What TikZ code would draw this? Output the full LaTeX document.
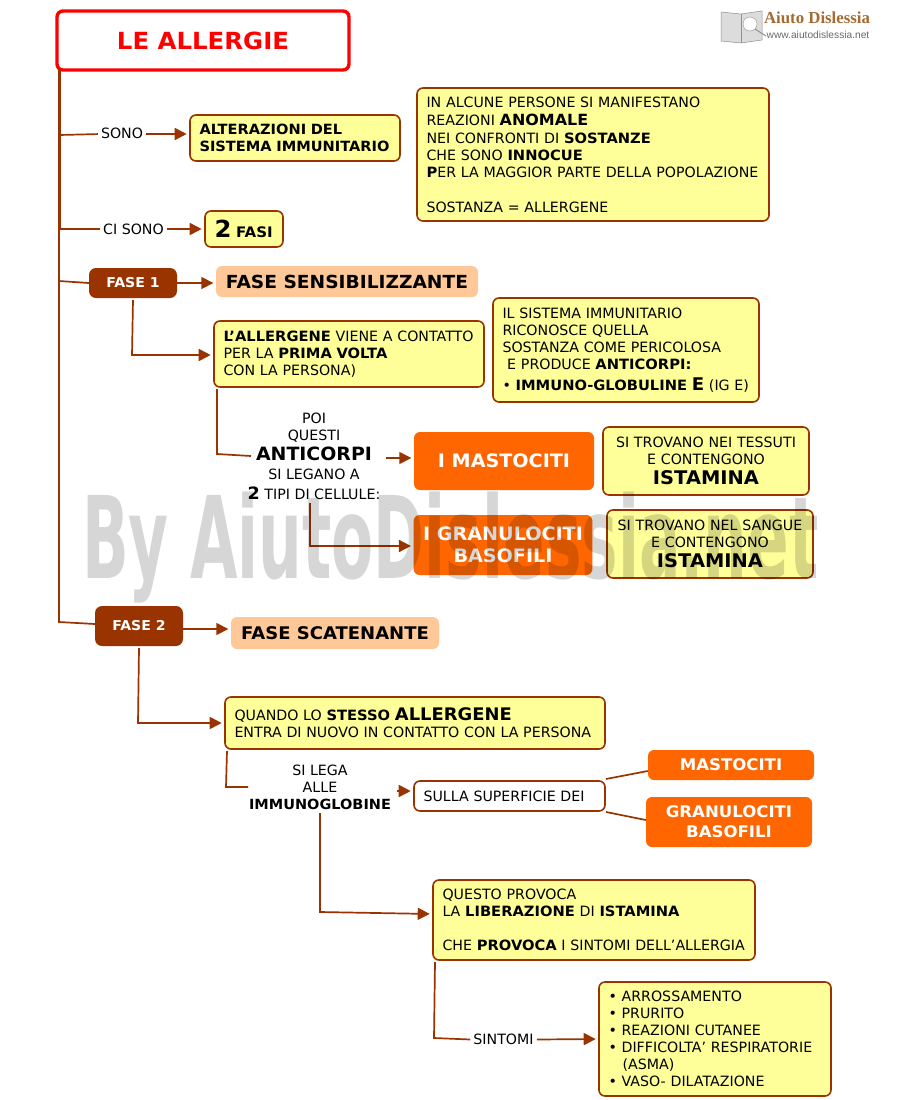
\documentclass[tikz,border=0pt]{standalone}
\usepackage{fontspec}
\setmainfont[BoldFeatures={FakeStretch=1.035}]{DejaVu Sans}
\newfontfamily\logofont{Liberation Serif}
\newfontfamily\urlfont{Liberation Sans}
\usepackage[svgnames, dvipsnames]{xcolor}
\usetikzlibrary{arrows.meta, calc}
\definecolor{linkbrown}{HTML}{993300}
\definecolor{boxyellow}{HTML}{FFFF99}
\definecolor{boxpeach}{HTML}{FFC899}
\definecolor{boxorange}{HTML}{FF6600}
\newcommand{\basetxt}{\fontsize{14.2}{17}\selectfont}
\newcommand{\bigword}[2][17]{{\fontsize{#1}{17}\selectfont\bfseries #2}}
\tikzset{
  conn/.style={draw=linkbrown, line width=1.7pt},
  arrow/.style={conn, -{Triangle[length=12pt,width=12pt]}, shorten >=2.5pt},
  textbox/.style={rectangle, rounded corners=6pt, inner xsep=9.5pt, inner ysep=0pt, font=\basetxt, align=left, text=black},
  yellowbox/.style={textbox, draw=linkbrown, line width=1.6pt, fill=boxyellow, text width=#1},
  whitebox/.style={textbox, draw=linkbrown, line width=1.6pt, fill=white, text width=#1},
  peachbox/.style={textbox, fill=boxpeach, font=\fontsize{18}{20}\selectfont\bfseries},
  orangebox/.style={textbox, fill=boxorange, text=white, align=center, font=\fontsize{18.5}{22}\selectfont\bfseries},
  phasebox/.style={textbox, rounded corners=7pt, fill=linkbrown, text=white, align=center, font=\fontsize{13.6}{15}\selectfont\bfseries},
  linklabel/.style={font=\basetxt, align=center, inner sep=3pt, text=black},
}
\begin{document}
\begin{tikzpicture}[x=1pt, y=-1pt]
\useasboundingbox (0,0) rectangle (900,1100);
% logo
\fill[Gainsboro, draw=Gray, line width=.5pt] (721,12) -- (741,14) -- (762,11) -- (762,40) -- (741,43) -- (721,41) -- cycle;
\draw[Gray, line width=.5pt] (741,14) -- (741,43);
\fill[white, draw=Gray] (750,24) circle (7);
\draw[Gray, line width=1pt] (755,29) -- (766,36);
\node[inner sep=0pt, font=\logofont\bfseries\fontsize{16.8}{16.8}\selectfont, text=Peru!80!black] (logo) at (817,18) {Aiuto Dislessia};
\node[inner sep=0pt, font=\urlfont\fontsize{10.2}{10.2}\selectfont, text=DimGray] (url) at (818,35) {www.aiutodislessia.net};
% boxes
\node[textbox, draw=red, line width=3.4pt, minimum width=292pt, minimum height=59pt, text=red, font=\fontsize{23.6}{25}\selectfont\bfseries] (title) at (203,40.5) {LE ALLERGIE};
\node[yellowbox=191pt, minimum height=46pt, font=\fontsize{14.1}{17}\selectfont\bfseries] (alter) at (295,138) {ALTERAZIONI DEL\\SISTEMA IMMUNITARIO};
\node[yellowbox=333pt, minimum height=133pt] (reazioni) at (593,154.5) {IN ALCUNE PERSONE SI MANIFESTANO\\[1pt]REAZIONI \bigword[15.4]{ANOMALE}\\[1pt]NEI CONFRONTI DI \textbf{SOSTANZE}\\CHE SONO \textbf{INNOCUE}\\\textbf{P}ER LA MAGGIOR PARTE DELLA POPOLAZIONE\\[18pt]SOSTANZA = ALLERGENE};
\node[yellowbox=59pt, minimum height=36pt] (fasi) at (244,229) {{\fontsize{23.5}{24}\selectfont\bfseries 2} \textbf{\fontsize{14.5}{14.5}\selectfont FASI}};
\node[phasebox, minimum width=88pt, minimum height=30pt] (fase1) at (133,283) {FASE 1};
\node[peachbox, minimum width=262pt, minimum height=31pt] (sensibil) at (347,281.5) {FASE SENSIBILIZZANTE};
\node[yellowbox=251pt, minimum height=66pt] (contatto) at (349,354) {\textbf{L’ALLERGENE} VIENE A CONTATTO\\PER LA \textbf{PRIMA VOLTA}\\CON LA PERSONA)};
\node[yellowbox=247pt, minimum height=104pt] (sistema) at (626,350) {IL SISTEMA IMMUNITARIO\\RICONOSCE QUELLA\\SOSTANZA COME PERICOLOSA\\\ E PRODUCE \textbf{ANTICORPI:}\\[4pt]• \textbf{IMMUNO-GLOBULINE} \bigword[17.5]{E} (IG E)};
\node[orangebox, minimum width=180pt, minimum height=58pt] (mast) at (504,461) {I MASTOCITI};
\node[yellowbox=187pt, minimum height=68pt, align=center] (tessuti) at (706,461) {SI TROVANO NEI TESSUTI\\E CONTENGONO\\[3pt]\bigword[18.8]{ISTAMINA}};
\node[orangebox, minimum width=178pt, minimum height=60pt] (gran) at (503,545) {I GRANULOCITI\\BASOFILI};
\node[yellowbox=187pt, minimum height=68pt, align=center] (sangue) at (710,544) {SI TROVANO NEL SANGUE\\E CONTENGONO\\[3pt]\bigword[18.8]{ISTAMINA}};
\node[phasebox, minimum width=88pt, minimum height=40pt] (fase2) at (139,626) {FASE 2};
\node[peachbox, minimum width=208pt, minimum height=32pt, font=\fontsize{17.4}{20}\selectfont\bfseries] (scaten) at (335,633) {FASE SCATENANTE};
\node[yellowbox=361pt, minimum height=52pt] (stesso) at (415,723) {QUANDO LO \textbf{STESSO} \bigword[17.3]{ALLERGENE}\\ENTRA DI NUOVO IN CONTATTO CON LA PERSONA};
\node[whitebox=172pt, minimum height=30pt] (superf) at (509.5,796) {SULLA SUPERFICIE DEI};
\node[orangebox, minimum width=166pt, minimum height=30pt, font=\fontsize{16}{20}\selectfont\bfseries] (mast2) at (731,765) {MASTOCITI};
\node[orangebox, minimum width=166pt, minimum height=50pt, font=\fontsize{16}{20}\selectfont\bfseries] (gran2) at (729,822) {GRANULOCITI\\BASOFILI};
\node[yellowbox=303pt, minimum height=80pt] (questo) at (594,920) {QUESTO PROVOCA\\LA \textbf{LIBERAZIONE} DI \textbf{ISTAMINA}\\[17pt]CHE \textbf{PROVOCA} I SINTOMI DELL’ALLERGIA};
\node[yellowbox=213pt, minimum height=114pt] (elenco) at (715,1039) {• ARROSSAMENTO\\• PRURITO\\• REAZIONI CUTANEE\\• DIFFICOLTA’ RESPIRATORIE\\\ \ \ (ASMA)\\• VASO- DILATAZIONE};
% link labels
\node[linklabel] (sono) at (122,133.5) {SONO};
\node[linklabel] (cisono) at (133.5,229) {CI SONO};
\node[linklabel] (poi) at (314,456.5) {POI\\QUESTI\\[3pt]\bigword[18.3]{ANTICORPI}\\[2pt]SI LEGANO A\\[3pt]{\fontsize{17}{17}\selectfont\bfseries 2} TIPI DI CELLULE:};
\node[linklabel] (silega) at (320,787.5) {SI LEGA\\ALLE\\\bigword[14]{IMMUNOGLOBINE}};
\node[linklabel] (sintomi) at (503.5,1039.5) {SINTOMI};
% connectors
\coordinate (t0) at (59,70);
\coordinate (t1) at (59,135);
\coordinate (t2) at (59,229);
\coordinate (t3) at (59,281);
\coordinate (t4) at (59,622);
\draw[conn, line width=3pt] (t0) -- (t2);
\draw[conn] (t2) -- (t4) -- (fase2.west |- 0,624);
\draw[conn] (t1) -- (sono);
\draw[conn] (t2) -- (cisono);
\draw[conn] (t3) -- (fase1.west |- 0,283);
\draw[arrow] (sono.east |- 0,134) -- (alter.west |- 0,134);
\draw[arrow] (cisono.east) -- (fasi.west);
\draw[arrow] (fase1.east) -- (sensibil.west |- fase1.east);
\coordinate (c1) at (132,355);
\draw[arrow] (133,300) -- (c1) -- (contatto.west |- c1);
\coordinate (c2) at (217,454);
\draw[conn] (217,389) -- (c2) -- (251,456);
\draw[arrow] (386,458) -- (mast.west |- 0,458);
\coordinate (c3) at (310,546);
\draw[arrow] (310,503) -- (c3) -- (gran.west |- c3);
\draw[arrow] (fase2.east |- 0,629) -- (scaten.west |- 0,629);
\coordinate (c4) at (138,723);
\draw[arrow] (139,648) -- (c4) -- (stesso.west);
\coordinate (c5) at (226,787);
\draw[conn] (227,751) -- (c5) -- (248,787);
\draw[arrow] (397,791) -- (superf.west |- 0,791);
\draw[conn] (606,779) -- (mast2.west |- 0,771);
\draw[conn] (606,812) -- (gran2.west |- 0,820);
\coordinate (c6) at (320,912);
\draw[arrow] (320,813) -- (c6) -- (questo.west |- 0,914);
\coordinate (c7) at (434,1038);
\draw[conn] (435,962) -- (c7) -- (sintomi.west);
\draw[arrow] (sintomi.east) -- (elenco.west);
% watermark
\node[inner sep=0pt, anchor=base west, xscale=.52, transform shape, text=black, opacity=.16, font=\fontsize{114}{114}\selectfont\bfseries] (mark) at (82,578) {By AiutoDislessia.net};
\end{tikzpicture}
\end{document}
